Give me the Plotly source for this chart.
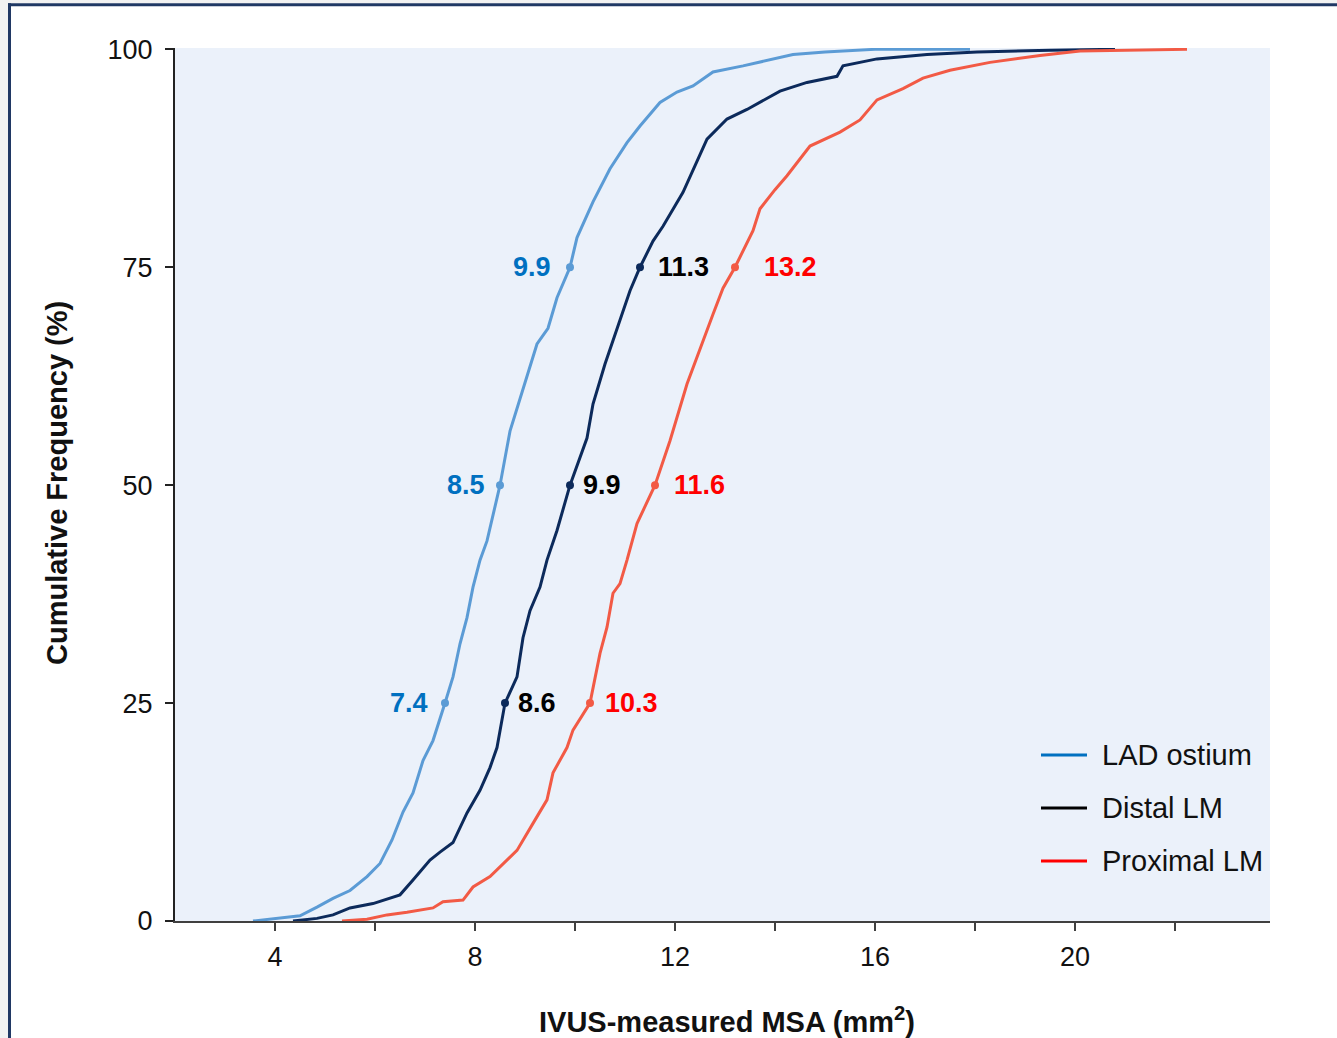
import plotly.graph_objects as go

# ---------------- data ----------------
lad_x = [3.56, 4.1, 4.5, 4.84, 5.16, 5.5, 5.84, 6.1, 6.34, 6.56, 6.76, 6.96, 7.16, 7.4, 7.56,
         7.7, 7.84, 7.96, 8.1, 8.24, 8.5, 8.7, 8.9, 9.24, 9.46, 9.64, 9.9, 10.04, 10.36, 10.7,
         11.04, 11.3, 11.7, 12.04, 12.36, 12.76, 13.36, 14.36, 15.0, 16.0, 17.9]
lad_y = [0, 0.3, 0.6, 1.6, 2.6, 3.5, 5.1, 6.6, 9.3, 12.5, 14.7, 18.4, 20.7, 25, 28,
         31.8, 34.8, 38.3, 41.4, 43.6, 50, 56.2, 60, 66.2, 68, 71.5, 75, 78.4, 82.5, 86.3,
         89.3, 91.2, 93.9, 95.1, 95.8, 97.4, 98.1, 99.4, 99.7, 100, 100]

dlm_x = [4.36, 4.84, 5.16, 5.5, 5.96, 6.5, 6.76, 7.1, 7.3, 7.56, 7.84, 8.1, 8.3, 8.44, 8.6,
         8.84, 8.96, 9.1, 9.3, 9.44, 9.64, 9.9, 10.24, 10.36, 10.6, 10.84, 11.1, 11.3, 11.56,
         11.76, 12.16, 12.64, 13.04, 13.44, 14.1, 14.64, 15.24, 15.36, 16.04, 17.04, 18.04,
         19.5, 20.8]
dlm_y = [0, 0.3, 0.7, 1.5, 2.0, 3.0, 4.7, 7.0, 7.9, 9.0, 12.4, 15, 17.6, 19.9, 25,
         28, 32.5, 35.6, 38.3, 41.4, 44.8, 50, 55.4, 59.3, 63.9, 68, 72.3, 75, 78,
         79.7, 83.6, 89.7, 92, 93.1, 95.2, 96.2, 96.9, 98.1, 98.9, 99.4, 99.7,
         99.9, 100]

plm_x = [5.34, 5.84, 6.24, 6.64, 7.16, 7.36, 7.76, 7.96, 8.3, 8.56, 8.84, 9.16, 9.44, 9.56,
         9.84, 9.96, 10.3, 10.5, 10.64, 10.76, 10.9, 11.04, 11.24, 11.6, 11.9, 12.24, 12.56,
         12.76, 12.96, 13.2, 13.56, 13.7, 14.0, 14.24, 14.7, 15.3, 15.7, 16.04, 16.56, 16.96,
         17.5, 18.3, 19.3, 20.1, 22.24]
plm_y = [0, 0.2, 0.7, 1.0, 1.5, 2.2, 2.4, 3.9, 5.1, 6.6, 8.1, 11.2, 13.9, 17,
         19.9, 21.9, 25, 30.7, 33.7, 37.6, 38.7, 41.4, 45.6, 50, 55.1, 61.6, 66.6,
         69.6, 72.6, 75, 79.2, 81.7, 83.9, 85.5, 88.9, 90.5, 91.9, 94.2, 95.5, 96.7,
         97.6, 98.5, 99.3, 99.8, 100]

quartile_levels = [25, 50, 75]
lad_q = [7.4, 8.5, 9.9]
dlm_q = [8.6, 9.9, 11.3]
plm_q = [10.3, 11.6, 13.2]

series_names = ["LAD ostium", "Distal LM", "Proximal LM"]
x_ticks = [4, 8, 12, 16, 20]
x_minor_ticks = [6, 10, 14, 18, 22]
y_ticks = [0, 25, 50, 75, 100]

# ---------------- styles ----------------
FONT = "Arial, Liberation Sans, sans-serif"
curve_colors = ["#5B9BD5", "#0C2A5B", "#F25A45"]
label_colors = ["#0070C0", "#000000", "#FF0000"]
legend_colors = ["#0070C0", "#000000", "#FF0000"]
label_side = ["left", "right", "right"]
label_shift = [[-15, -13, -17], [11, 11, 16], [13, 17, 27]]

fig = go.Figure()

series = [(lad_x, lad_y, lad_q), (dlm_x, dlm_y, dlm_q), (plm_x, plm_y, plm_q)]
for i, (xs, ys, qs) in enumerate(series):
    fig.add_trace(go.Scatter(x=xs, y=ys, mode="lines", name=series_names[i],
                             line=dict(color=curve_colors[i], width=3),
                             showlegend=False, hoverinfo="skip"))
    fig.add_trace(go.Scatter(x=qs, y=quartile_levels, mode="markers",
                             marker=dict(color=curve_colors[i], size=8),
                             showlegend=False, hoverinfo="skip", cliponaxis=False))
    for j, (qx, qy) in enumerate(zip(qs, quartile_levels)):
        fig.add_annotation(x=qx, y=qy, xref="x", yref="y", text=f"<b>{qx}</b>",
                           showarrow=False,
                           xanchor="right" if label_side[i] == "left" else "left",
                           yanchor="middle", xshift=label_shift[i][j], yshift=0,
                           font=dict(family=FONT, size=27, color=label_colors[i]))

# ---------------- layout geometry ----------------
W, H = 1337, 1038
L, R, T, B = 175, 1270, 48, 921


def px(xp):
    return (xp - L) / (R - L)


def py(yp):
    return (B - yp) / (B - T)


shapes = []
# outer grey strip and dark frame
shapes.append(dict(type="rect", xref="paper", yref="paper", x0=px(0), x1=px(8),
                   y0=py(H), y1=py(0), fillcolor="#F2F2F2", line=dict(width=0), layer="below"))
shapes.append(dict(type="rect", xref="paper", yref="paper", x0=px(8), x1=px(W),
                   y0=py(3), y1=py(0), fillcolor="#F2F2F2", line=dict(width=0), layer="below"))
shapes.append(dict(type="line", xref="paper", yref="paper", x0=px(9.5), x1=px(9.5),
                   y0=py(3.2), y1=py(H), line=dict(color="#203864", width=3)))
shapes.append(dict(type="line", xref="paper", yref="paper", x0=px(8), x1=px(W),
                   y0=py(4.7), y1=py(4.7), line=dict(color="#203864", width=3)))

# manual legend
legend_y = [755, 808, 861]
for i, name in enumerate(series_names):
    shapes.append(dict(type="line", xref="paper", yref="paper", x0=px(1041), x1=px(1087),
                       y0=py(legend_y[i]), y1=py(legend_y[i]),
                       line=dict(color=legend_colors[i], width=3)))
    fig.add_annotation(x=px(1100), y=py(legend_y[i]), xref="paper", yref="paper",
                       text=name, showarrow=False, xanchor="left", yanchor="middle",
                       font=dict(family=FONT, size=29, color="#111111"))

# axis titles
fig.add_annotation(x=px(727), y=py(1020), xref="paper", yref="paper",
                   text="<b>IVUS-measured MSA (mm<sup>2</sup>)</b>", showarrow=False,
                   xanchor="center", yanchor="middle",
                   font=dict(family=FONT, size=29, color="#111111"))
fig.add_annotation(x=px(57), y=py(483), xref="paper", yref="paper",
                   text="<b>Cumulative Frequency (%)</b>", showarrow=False, textangle=-90,
                   xanchor="center", yanchor="middle",
                   font=dict(family=FONT, size=29, color="#111111"))

fig.update_layout(
    width=W, height=H,
    margin=dict(l=L, r=W - R, t=T, b=H - B, pad=0),
    paper_bgcolor="white",
    plot_bgcolor="#EBF1FA",
    showlegend=False,
    shapes=shapes,
    font=dict(family=FONT, color="#111111"),
)

fig.update_xaxes(range=[2, 23.9], tickvals=x_ticks, ticktext=[str(v) for v in x_ticks],
                 ticks="outside", ticklen=8, tickwidth=2, tickcolor="#404040",
                 minor=dict(tickvals=x_minor_ticks, ticks="outside", ticklen=8, tickwidth=2,
                            tickcolor="#404040", showgrid=False),
                 showline=True, linecolor="#404040", linewidth=2,
                 showgrid=False, zeroline=False,
                 tickfont=dict(family=FONT, size=27, color="#111111"),
                 ticklabelstandoff=3)
fig.update_yaxes(range=[0, 100.15], tickvals=y_ticks,
                 ticks="outside", ticklen=8, tickwidth=2, tickcolor="#222222",
                 showline=True, linecolor="#222222", linewidth=2,
                 showgrid=False, zeroline=False,
                 tickfont=dict(family=FONT, size=27, color="#111111"),
                 ticklabelstandoff=7)

fig.write_html("out.html")
